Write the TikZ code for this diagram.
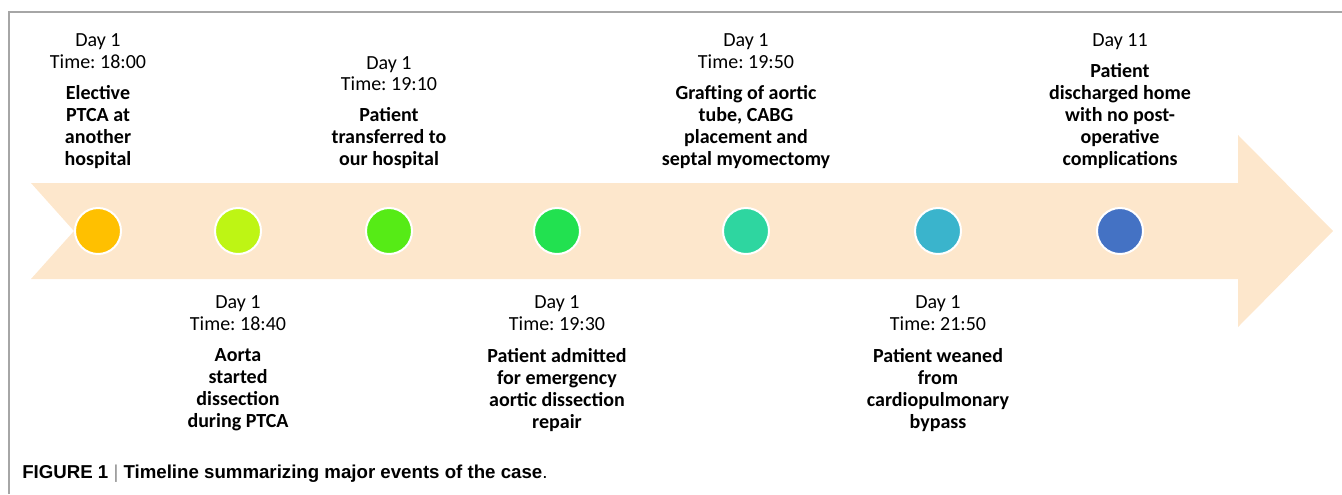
\documentclass[tikz,border=0pt]{standalone}
\usepackage{fontspec}
\setmainfont{Carlito}
\newfontfamily\capfont{Liberation Sans}
\usetikzlibrary{positioning}
\frenchspacing
\definecolor{band}{RGB}{253,231,204}
\definecolor{rim}{RGB}{166,166,166}
\definecolor{ev1}{RGB}{255,192,0}
\definecolor{ev2}{RGB}{190,245,20}
\definecolor{ev3}{RGB}{86,235,22}
\definecolor{ev4}{RGB}{34,225,80}
\definecolor{ev5}{RGB}{46,214,160}
\definecolor{ev6}{RGB}{58,180,204}
\definecolor{ev7}{RGB}{68,114,196}
\tikzset{
  dot/.style={circle,draw=white,line width=1.5pt,minimum size=34.5pt,inner sep=0pt},
  when/.style={align=center,inner sep=0pt,text depth=0pt,font=\fontsize{15}{16.5}\selectfont},
  what/.style={align=center,inner sep=0pt,font=\fontsize{15}{16.5}\selectfont\bfseries},
}
\begin{document}
\begin{tikzpicture}[x=0.75pt,y=-0.75pt,node distance=12pt]
      \useasboundingbox (0,0) rectangle (1342,494);
      \draw[rim,line width=1.5pt] (9,494) -- (9,12) -- (1342,12);
      \fill[band] (31,183) -- (1238,183) -- (1238,135) -- (1333,231)
        -- (1238,327) -- (1238,279) -- (31,279) -- (74,231) -- cycle;
      \draw
        (98,231) node[dot,fill=ev1] (c1){}
        (238,231) node[dot,fill=ev2] (c2){}
        (389,231) node[dot,fill=ev3] (c3){}
        (557,231) node[dot,fill=ev4] (c4){}
        (746,231) node[dot,fill=ev5] (c5){}
        (938,231) node[dot,fill=ev6] (c6){}
        (1120,231) node[dot,fill=ev7] (c7){};
      \begin{scope}[what]
        \node[anchor=south] (e1) at (98,169) {Elective\\PTCA at\\another\\hospital};
        \node[anchor=south] (e3) at (389,169) {Patient\\transferred to\\our hospital};
        \node[anchor=south] (e5) at (746,169) {Grafting of aortic\\tube, CABG\\placement and\\septal myomectomy};
        \node[anchor=south] (e7) at (1120,169) {Patient\\discharged home\\with no post-\\operative\\complications};
      \end{scope}
      \node[when,above=of e1] (d1) {Day 1\\Time: 18:00};
      \node[when,above=of e3] (d3) {Day 1\\Time: 19:10};
      \node[when,above=of e5] (d5) {Day 1\\Time: 19:50};
      \node[when,above=of e7] (d7) {Day 11};
      \begin{scope}[when]
        \node[anchor=north] (d2) at (238,295) {Day 1\\Time: 18:40};
        \node[anchor=north] (d4) at (557,295) {Day 1\\Time: 19:30};
        \node[anchor=north] (d6) at (938,295) {Day 1\\Time: 21:50};
      \end{scope}
      \node[what,below=13.5pt of d2] (e2) {Aorta\\started\\dissection\\during PTCA};
      \node[what,below=13.5pt of d4] (e4) {Patient admitted\\for emergency\\aortic dissection\\repair};
      \node[what,below=13.5pt of d6] (e6) {Patient weaned\\from\\cardiopulmonary\\bypass};
      \node[anchor=base west,inner sep=0pt,font=\capfont\fontsize{14}{16}\selectfont\bfseries] (cap) at (22,478)
        {FIGURE 1 {\mdseries\color{black!45}|} Timeline summarizing major events of the case{\mdseries .}};
    \end{tikzpicture}
\end{document}
